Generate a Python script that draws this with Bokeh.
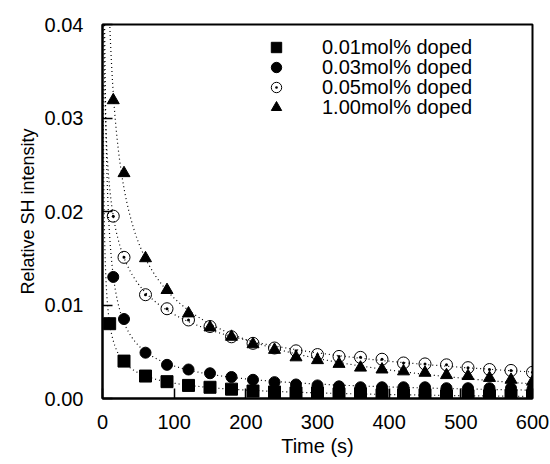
import numpy as np
from bokeh.plotting import figure
from bokeh.models import FixedTicker, PrintfTickFormatter, Legend, LegendItem
from bokeh.embed import file_html
from bokeh.resources import INLINE

# ---- data ----
time_a = [10, 30, 60, 90, 120, 150, 180, 210, 240, 270, 300, 330, 360, 390, 420, 450, 480, 510, 540, 570, 600]
time_b = [15, 30, 60, 90, 120, 150, 180, 210, 240, 270, 300, 330, 360, 390, 420, 450, 480, 510, 540, 570, 600]

doped_001 = [0.0080, 0.0040, 0.0024, 0.0018, 0.0014, 0.0012, 0.0010, 0.0008, 0.0007, 0.0006, 0.0006,
             0.0005, 0.0005, 0.0004, 0.0004, 0.0004, 0.0003, 0.0003, 0.0003, 0.0003, 0.0003]
doped_003 = [0.0130, 0.0085, 0.0049, 0.0036, 0.0031, 0.0027, 0.0023, 0.0020, 0.00175, 0.0015, 0.0014,
             0.0013, 0.0012, 0.0012, 0.0012, 0.0012, 0.0011, 0.0011, 0.0011, 0.0011, 0.0010]
doped_005 = [0.0195, 0.0151, 0.0111, 0.0096, 0.0084, 0.0077, 0.0066, 0.0059, 0.0054, 0.0051, 0.0047,
             0.0045, 0.0044, 0.0042, 0.0038, 0.0037, 0.0036, 0.0033, 0.0031, 0.0030, 0.0028]
doped_100 = [0.0319, 0.0241, 0.0150, 0.0116, 0.0091, 0.0076, 0.0066, 0.0058, 0.0052, 0.0044, 0.0041,
             0.0037, 0.0033, 0.0031, 0.0029, 0.00275, 0.0025, 0.0024, 0.0022, 0.0020, 0.0018]

labels = ["0.01mol% doped", "0.03mol% doped", "0.05mol% doped", "1.00mol% doped"]
x_ticks = [0, 100, 200, 300, 400, 500, 600]
y_ticks = [0.00, 0.01, 0.02, 0.03, 0.04]

FONT = "Liberation Sans"


def fit_power(t, y):
    """Least-squares fit of y = a + b * t**(-n) (grid over n)."""
    t = np.asarray(t, float)
    y = np.asarray(y, float)
    best = None
    for n in np.arange(0.2, 3.0, 0.01):
        X = np.column_stack([np.ones_like(t), t ** (-n)])
        coef, *_ = np.linalg.lstsq(X, y, rcond=None)
        err = np.sum((X @ coef - y) ** 2)
        if best is None or err < best[0]:
            best = (err, coef[0], coef[1], n)
    return best[1:]


p = figure(width=550, height=464, x_range=(0, 600), y_range=(0, 0.04),
           output_backend="svg", toolbar_location=None,
           min_border_left=102, min_border_right=18, min_border_top=24, min_border_bottom=66)

p.xgrid.visible = False
p.ygrid.visible = False
p.outline_line_color = "black"
p.outline_line_width = 2
p.background_fill_color = "white"
p.border_fill_color = "white"

# fitted dotted curves
tt = np.linspace(1, 600, 4000)
for t, y in [(time_a, doped_001), (time_b, doped_003), (time_b, doped_005), (time_b, doped_100)]:
    a, b, n = fit_power(t, y)
    yy = np.minimum(a + b * tt ** (-n), 0.06)
    p.line(tt, yy, line_color="black", line_dash="1 3", line_width=1.2)

r1 = p.scatter(time_a, doped_001, marker="square", size=12, fill_color="black", line_color="black")
r2 = p.scatter(time_b, doped_003, marker="circle", size=11, fill_color="black", line_color="black")
r3 = p.scatter(time_b, doped_005, marker="circle_dot", size=12, fill_alpha=0, line_color="black", line_width=1)
r4 = p.scatter(time_b, doped_100, marker="triangle", size=12, fill_color="black", line_color="black")

# one legend per row so the rows can sit 20 px apart
for i, (lab, r) in enumerate(zip(labels, [r1, r2, r3, r4])):
    lg = Legend(items=[LegendItem(label=lab, renderers=[r])],
                location=(161, 338 - 20 * i), padding=0, margin=0, spacing=0,
                glyph_width=26, glyph_height=26, label_height=26, label_standoff=33,
                label_text_font=FONT, label_text_font_size="20px", label_text_color="black",
                background_fill_alpha=0, border_line_alpha=0)
    p.add_layout(lg, "center")

for ax in (p.xaxis[0], p.yaxis[0]):
    ax.major_tick_in = 10
    ax.major_tick_out = 0
    ax.minor_tick_line_color = None
    ax.axis_line_width = 2
    ax.major_tick_line_width = 1.5
    ax.major_label_text_font = FONT
    ax.major_label_text_font_size = "20px"
    ax.major_label_text_color = "black"
    ax.axis_label_text_font = FONT
    ax.axis_label_text_font_style = "normal"
    ax.axis_label_text_color = "black"

p.xaxis.axis_label_text_font_size = "20px"
p.yaxis.axis_label_text_font_size = "18px"
p.xaxis.ticker = FixedTicker(ticks=x_ticks)
p.yaxis.ticker = FixedTicker(ticks=y_ticks)
p.yaxis.formatter = PrintfTickFormatter(format="%.2f")
p.xaxis.axis_label = "Time (s)"
p.yaxis.axis_label = "Relative SH intensity"
p.xaxis.major_label_standoff = 16
p.yaxis.major_label_standoff = 19
p.xaxis.axis_label_standoff = 3
p.yaxis.axis_label_standoff = 4

open("out.html", "w").write(file_html(p, INLINE))
